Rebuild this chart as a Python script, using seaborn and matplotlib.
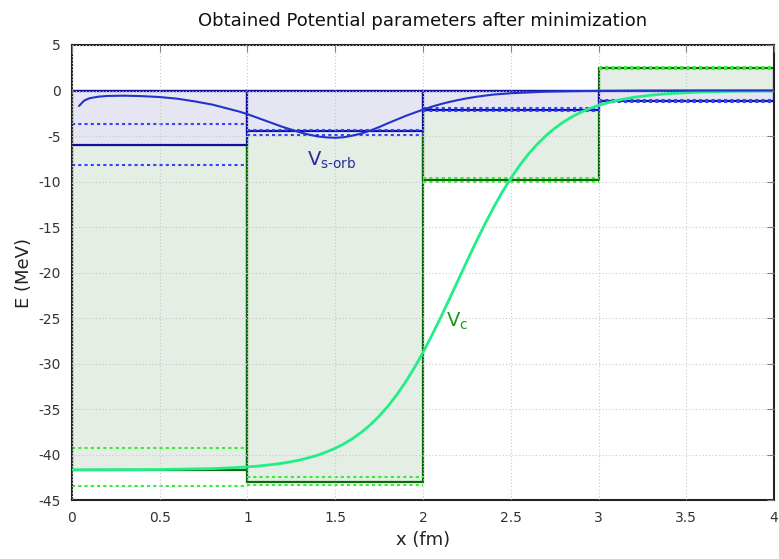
import numpy as np
import pandas as pd
import matplotlib
matplotlib.use("Agg")
import matplotlib.pyplot as plt
import seaborn as sns

# step regions (fm)
edges = [0, 1, 2, 3, 4]

# central potential steps and their bounds
vc_steps = [-41.7, -43.0, -9.85, 2.45]
vc_upper = [-39.3, -42.5, -9.6, 2.6]
vc_lower = [-43.5, -43.3, -10.1, 2.4]

# spin-orbit steps and their bounds
vso_steps = [-5.95, -4.5, -2.1, -1.15]
vso_upper = [-3.7, -4.3, -1.95, -1.05]
vso_lower = [-8.2, -4.9, -2.25, -1.3]

# smooth central potential
vc_x = [0.0, 0.5, 0.8, 0.9, 1.0, 1.05, 1.1, 1.15, 1.2, 1.25, 1.3, 1.35, 1.4,
        1.45, 1.5, 1.55, 1.6, 1.65, 1.7, 1.75, 1.8, 1.85, 1.9, 1.95, 2.0, 2.05,
        2.1, 2.15, 2.2, 2.25, 2.3, 2.35, 2.4, 2.45, 2.5, 2.55, 2.6, 2.65, 2.7,
        2.75, 2.8, 2.85, 2.9, 2.95, 3.0, 3.1, 3.2, 3.3, 3.4, 3.6, 3.8, 4.0]
vc_y = [-41.69, -41.65, -41.55, -41.47, -41.36, -41.29, -41.19, -41.08, -40.95,
        -40.79, -40.59, -40.35, -40.07, -39.72, -39.31, -38.82, -38.23, -37.54,
        -36.73, -35.78, -34.70, -33.45, -32.05, -30.49, -28.77, -26.92, -24.97,
        -22.93, -20.85, -18.77, -16.74, -14.78, -12.93, -11.21, -9.65, -8.25,
        -7.00, -5.92, -4.97, -4.16, -3.47, -2.88, -2.39, -1.98, -1.63, -1.11,
        -0.75, -0.51, -0.34, -0.15, -0.07, -0.03]

# smooth spin-orbit potential
vso_x = [0.04, 0.07, 0.1, 0.15, 0.2, 0.3, 0.4, 0.5, 0.6, 0.7, 0.8, 0.9, 0.95,
         1.0, 1.05, 1.1, 1.15, 1.2, 1.25, 1.3, 1.35, 1.4, 1.45, 1.5, 1.55, 1.6,
         1.65, 1.7, 1.75, 1.8, 1.85, 1.9, 1.95, 2.0, 2.05, 2.1, 2.15, 2.2, 2.25,
         2.3, 2.35, 2.4, 2.5, 2.7, 2.9, 3.2, 3.6, 4.0]
vso_y = [-1.7, -1.1, -0.85, -0.68, -0.6, -0.57, -0.62, -0.72, -0.9, -1.2, -1.55,
         -2.05, -2.3, -2.6, -2.95, -3.3, -3.65, -4.0, -4.3, -4.6, -4.85, -5.05,
         -5.15, -5.2, -5.13, -4.95, -4.72, -4.4, -4.02, -3.6, -3.2, -2.8, -2.45,
         -2.1, -1.78, -1.5, -1.26, -1.05, -0.86, -0.7, -0.57, -0.45, -0.3,
         -0.13, -0.06, -0.02, 0.0, 0.0]

sns.set_style("white")
plt.rcParams['font.family'] = ['DejaVu Sans']
plt.rcParams['axes.unicode_minus'] = False

fig = plt.figure(figsize=(7.79, 5.59), dpi=100)
ax = fig.add_axes([0.0924, 0.1055, 0.9012, 0.814])

left = edges[:-1]

# boxes: green (Vc) first, blue (Vso) on top
ax.bar(left, vc_steps, width=1, align='edge', color='#e4eee4',
       edgecolor='#0a6a0a', linewidth=1.6, zorder=1)
ax.bar(left, vso_steps, width=1, align='edge', color='#e6e6f3',
       edgecolor='#10109a', linewidth=1.6, zorder=1.1)

# dotted bounds
dots = (0, (1.5, 1.5))
ax.hlines(vc_upper, left, edges[1:], colors='#33ee33', linestyles=dots, lw=1.5, zorder=1.5)
ax.hlines(vc_lower, left, edges[1:], colors='#33ee33', linestyles=dots, lw=1.5, zorder=1.5)
ax.hlines(vso_upper, left, edges[1:], colors='#3344ff', linestyles=dots, lw=1.5, zorder=1.6)
ax.hlines(vso_lower, left, edges[1:], colors='#3344ff', linestyles=dots, lw=1.5, zorder=1.6)

# smooth potentials
df_vc = pd.DataFrame({"x": vc_x, "E": vc_y})
df_vso = pd.DataFrame({"x": vso_x, "E": vso_y})
sns.lineplot(data=df_vc, x="x", y="E", color='#22ee88', lw=2, ax=ax, zorder=3)
sns.lineplot(data=df_vso, x="x", y="E", color='#2233cc', lw=1.5, ax=ax, zorder=3)

ax.text(1.34, -8.3, r'V$_{\mathrm{s\text{-}orb}}$', color='#2a2a99', fontsize=14, zorder=4)
ax.text(2.13, -25.9, r'V$_{\mathrm{c}}$', color='#1a9a1a', fontsize=14, zorder=4)

ax.set_xlim(0, 4)
ax.set_ylim(-45, 5)
ax.set_xticks(np.arange(0, 4.01, 0.5))
ax.set_xticklabels(['0', '0.5', '1', '1.5', '2', '2.5', '3', '3.5', '4'])
ax.set_yticks(np.arange(-45, 6, 5))

ax.set_axisbelow(False)
ax.grid(True, color='#c8c8c8', linestyle=(0, (1, 2)), lw=0.8)
ax.tick_params(direction='in', length=5, color='#808080', top=True, right=True,
               labelsize=10, labelcolor='#333333', pad=8)
for s in ax.spines.values():
    s.set_color('#222222')
    s.set_linewidth(1.5)

ax.set_title("Obtained Potential parameters after minimization", fontsize=13,
             color='#111111', pad=14)
ax.set_xlabel("x (fm)", fontsize=13, color='#222222')
ax.set_ylabel("E (MeV)", fontsize=13, color='#222222')

fig.savefig("out.png", dpi=100, facecolor='white')
